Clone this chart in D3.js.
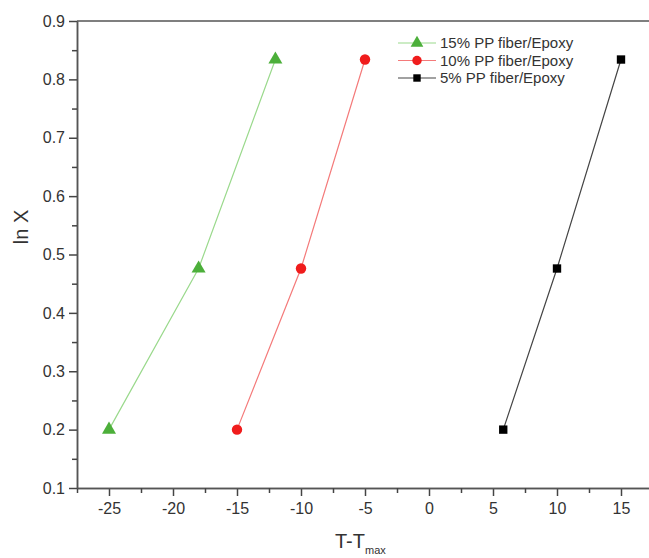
<!DOCTYPE html>
<meta charset="utf-8">
<script src="https://d3js.org/d3.v7.min.js"></script>
<style>
html, body { margin: 0; background: #fff; }
text { font-family: "Liberation Sans", Arial, sans-serif; fill: #333; }
</style>
<body>
<div id="chart"></div>
<script>

// values
var lnX = [0.2, 0.476, 0.834];
var pp15 = [-25, -18, -12];
var pp10 = [-15, -10, -5];
var pp5 = [5.8, 10, 15];
var seriesNames = ["15% PP fiber/Epoxy", "10% PP fiber/Epoxy", "5% PP fiber/Epoxy"];
var xTicks = [-25, -20, -15, -10, -5, 0, 5, 10, 15];
var yTicks = [0.1, 0.2, 0.3, 0.4, 0.5, 0.6, 0.7, 0.8, 0.9];

var width = 649, height = 558;

var series = [
  {name: seriesNames[0], xs: pp15, line: "#9ad98c", fill: "#4caf3a", shape: d3.symbolTriangle},
  {name: seriesNames[1], xs: pp10, line: "#f47a7a", fill: "#f01c1c", shape: d3.symbolCircle},
  {name: seriesNames[2], xs: pp5, line: "#444", fill: "#000", shape: d3.symbolSquare}
];

var svg = d3.select("#chart").append("svg")
    .attr("width", width)
    .attr("height", height);

var x = d3.scaleLinear().domain([-27.5, 17.5]).range([77, 653]);
var y = d3.scaleLinear().domain([0.1, 0.9]).range([488, 21]);

// frame: top line and axes
svg.append("line")
    .attr("x1", x(-27.5)).attr("x2", x(17.5))
    .attr("y1", y(0.9)).attr("y2", y(0.9))
    .attr("stroke", "#555").attr("stroke-width", 1.5);

var xMinor = d3.range(-27.5, 17.6, 5);
var yMinor = d3.range(0.15, 0.9, 0.1);

var gx = svg.append("g").attr("transform", "translate(0," + y(0.1) + ")");
gx.call(d3.axisBottom(x).tickValues(xTicks).tickSize(8).tickPadding(7).tickSizeOuter(0)
    .tickFormat(function(d) { return String(d); }));
gx.append("g").call(d3.axisBottom(x).tickValues(xMinor).tickSize(5).tickFormat("").tickSizeOuter(0));

var gy = svg.append("g").attr("transform", "translate(" + x(-27.5) + ",0)");
gy.call(d3.axisLeft(y).tickValues(yTicks).tickSize(8).tickPadding(4).tickFormat(d3.format(".1f")).tickSizeOuter(0));
gy.append("g").call(d3.axisLeft(y).tickValues(yMinor).tickSize(5).tickFormat("").tickSizeOuter(0));

svg.selectAll(".domain").attr("stroke", "#555").attr("stroke-width", 1.5);
svg.selectAll(".tick line").attr("stroke", "#444").attr("stroke-width", 1.5);
svg.selectAll(".tick text").style("font-size", "16px").attr("fill", "#333");

// data
var line = d3.line()
    .x(function(d) { return x(d[0]); })
    .y(function(d) { return y(d[1]); });

series.forEach(function(s) {
  var pts = s.xs.map(function(v, i) { return [v, lnX[i]]; });
  svg.append("path")
      .attr("d", line(pts))
      .attr("fill", "none")
      .attr("stroke", s.line)
      .attr("stroke-width", 1.2);
  svg.selectAll(null).data(pts).enter().append("path")
      .attr("transform", function(d) { return "translate(" + x(d[0]) + "," + y(d[1]) + ")"; })
      .attr("d", d3.symbol().type(s.shape).size(s.shape === d3.symbolSquare ? 70 : 85))
      .attr("fill", s.fill);
});

// legend
var legend = svg.append("g").attr("transform", "translate(398,43)");
series.forEach(function(s, i) {
  var row = legend.append("g").attr("transform", "translate(0," + (i * 17.5) + ")");
  row.append("line").attr("x1", 0).attr("x2", 38).attr("stroke", s.line).attr("stroke-width", 1.2);
  row.append("path").attr("transform", "translate(19,0)")
      .attr("d", d3.symbol().type(s.shape).size(s.shape === d3.symbolSquare ? 55 : 70))
      .attr("fill", s.fill);
  row.append("text").attr("x", 42).attr("y", 5)
      .style("font-size", "15px").text(s.name);
});

// axis titles
var xt = svg.append("text")
    .attr("x", 335).attr("y", 548)
    .style("font-size", "20px");
xt.append("tspan").text("T-T");
xt.append("tspan").attr("dy", 6).style("font-size", "11px").text("max");

svg.append("text")
    .attr("transform", "translate(28,227) rotate(-90)")
    .attr("text-anchor", "middle")
    .style("font-size", "20px")
    .text("ln X");

</script>
</body>
